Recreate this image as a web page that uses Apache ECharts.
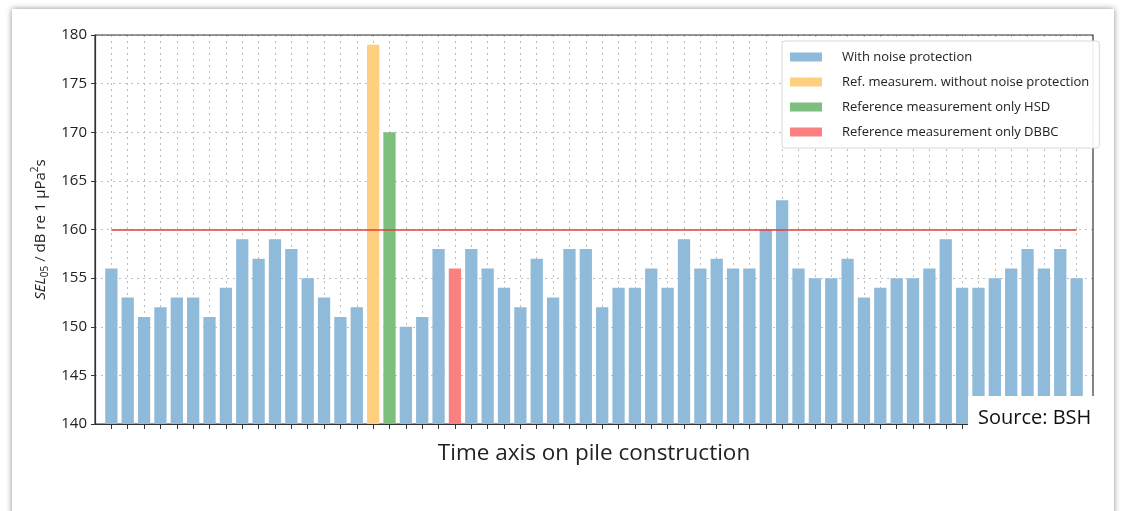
<!DOCTYPE html>
<html>
<head>
<meta charset="utf-8">
<script src="https://cdn.jsdelivr.net/npm/echarts@6/dist/echarts.min.js"></script>
<style>
  html, body { margin: 0; padding: 0; background: #ffffff; }
  #chart { width: 1145px; height: 511px; }
</style>
</head>
<body>
<div id="chart"></div>
<script>
// Pile driving events in chronological order (category labels are hidden)
const piles = ['1','2','3','4','5','6','7','8','9','10','11','12','13','14','15','16','17','18','19','20',
  '21','22','23','24','25','26','27','28','29','30','31','32','33','34','35','36','37','38','39','40',
  '41','42','43','44','45','46','47','48','49','50','51','52','53','54','55','56','57','58','59','60'];

// SEL05 in dB re 1 µPa²s for each pile
const sel05 = [156,153,151,152,153,153,151,154,159,157,159,158,155,153,151,152,179,170,150,151,
  158,156,158,156,154,152,157,153,158,158,152,154,154,156,154,159,156,157,156,156,
  160,163,156,155,155,157,153,154,155,155,156,159,154,154,155,156,158,156,158,155];

// Measurement configuration per pile: 0 = with noise protection, 1 = without,
// 2 = only HSD, 3 = only DBBC
const setup = [0,0,0,0,0,0,0,0,0,0,0,0,0,0,0,0,1,2,0,0,
  0,3,0,0,0,0,0,0,0,0,0,0,0,0,0,0,0,0,0,0,
  0,0,0,0,0,0,0,0,0,0,0,0,0,0,0,0,0,0,0,0];

const seriesNames = ['With noise protection', 'Ref. measurem. without noise protection',
  'Reference measurement only HSD', 'Reference measurement only DBBC'];
const seriesColors = ['#8fbad9', '#fecf7f', '#7dbf7d', '#fb8080'];

// Threshold value
const limit = 160;

const yTicks = { min: 140, max: 180, step: 5 };

const font = '"Open Sans", "Noto Sans", sans-serif';

const chart = echarts.init(document.getElementById('chart'), null, { renderer: 'canvas' });

// One empty slot at each end of the time axis leaves a margin around the bars
const axisData = [''].concat(piles, ['']);
const innerSlot = (idx) => idx > 0 && idx <= piles.length;

const barSeries = seriesNames.map((name, k) => ({
  name: name,
  type: 'bar',
  barGap: '-100%',
  barCategoryGap: '25%',
  itemStyle: { color: seriesColors[k] },
  data: ['-'].concat(sel05.map((v, i) => (setup[i] === k ? v : '-')), ['-']),
  z: 3
}));

barSeries[0].markLine = {
  symbol: 'none',
  silent: true,
  label: { show: false },
  lineStyle: { color: '#e03c3c', width: 1.6, type: 'solid' },
  data: [[{ xAxis: 1, yAxis: limit }, { xAxis: piles.length, yAxis: limit }]],
  z: 5
};

const option = {
  backgroundColor: '#ffffff',
  animation: false,
  textStyle: { fontFamily: font },
  grid: {
    left: 95, right: 52, top: 35, bottom: 87, z: 1,
    show: true, borderColor: '#333333', borderWidth: 1.2, backgroundColor: 'transparent'
  },
  legend: {
    left: 782, top: 41,
    orient: 'vertical',
    itemWidth: 32, itemHeight: 9, itemGap: 9,
    padding: [8, 10, 8, 8],
    backgroundColor: 'rgba(255,255,255,0.92)',
    borderColor: '#d8d8d8', borderWidth: 1, borderRadius: 3,
    icon: 'rect',
    textStyle: { fontFamily: font, fontSize: 13, color: '#222', padding: [0, 0, 0, 15], lineHeight: 16 },
    data: seriesNames
  },
  xAxis: {
    type: 'category',
    data: axisData,
    boundaryGap: false,
    name: 'Time axis on pile construction',
    nameLocation: 'middle',
    nameGap: 18,
    nameTextStyle: { fontFamily: font, fontSize: 22.5, color: '#222', verticalAlign: 'top' },
    axisLine: { lineStyle: { color: '#333', width: 1.2 } },
    axisTick: { show: true, interval: innerSlot, length: 5, lineStyle: { color: '#333' } },
    axisLabel: { show: false, interval: 0 },
    splitLine: { show: true, interval: innerSlot, lineStyle: { color: '#bdbdbd', type: [2, 4], width: 1 } }
  },
  yAxis: {
    type: 'value',
    min: yTicks.min, max: yTicks.max, interval: yTicks.step,
    name: '{i|SEL}{sub|05}{n| / dB re 1 µPa}{sup|2}{n|s}',
    nameLocation: 'middle',
    nameRotate: 90,
    nameGap: 44,
    nameTextStyle: {
      fontFamily: font, fontSize: 15, color: '#222',
      rich: {
        i: { fontStyle: 'italic', fontSize: 15, fontFamily: font, color: '#222', lineHeight: 20 },
        n: { fontSize: 15, fontFamily: font, color: '#222', lineHeight: 20 },
        sub: { fontSize: 10, fontFamily: font, color: '#222', verticalAlign: 'bottom', lineHeight: 12 },
        sup: { fontSize: 10, fontFamily: font, color: '#222', verticalAlign: 'top', lineHeight: 12 }
      }
    },
    axisLine: { show: true, lineStyle: { color: '#333', width: 1.2 } },
    axisTick: { show: true, length: 4, lineStyle: { color: '#333' } },
    axisLabel: { fontFamily: font, fontSize: 15, color: '#222', margin: 8 },
    splitLine: { show: true, lineStyle: { color: '#bdbdbd', type: [2, 4], width: 1 } }
  },
  graphic: [
    {
      type: 'rect', z: -10, silent: true,
      shape: { x: 12, y: 9, width: 1102, height: 540 },
      style: { fill: '#ffffff', shadowBlur: 6, shadowColor: 'rgba(0,0,0,0.45)', shadowOffsetX: 0, shadowOffsetY: 0 }
    },
    {
      type: 'rect', z: 100, silent: true,
      shape: { x: 968, y: 396, width: 142, height: 44 },
      style: { fill: '#ffffff' }
    },
    {
      type: 'text', z: 101, silent: true, x: 978, y: 418,
      style: { text: 'Source: BSH', fontFamily: font, fontSize: 20, fill: '#111', verticalAlign: 'middle' }
    }
  ],
  series: barSeries
};

chart.setOption(option);
</script>
</body>
</html>
